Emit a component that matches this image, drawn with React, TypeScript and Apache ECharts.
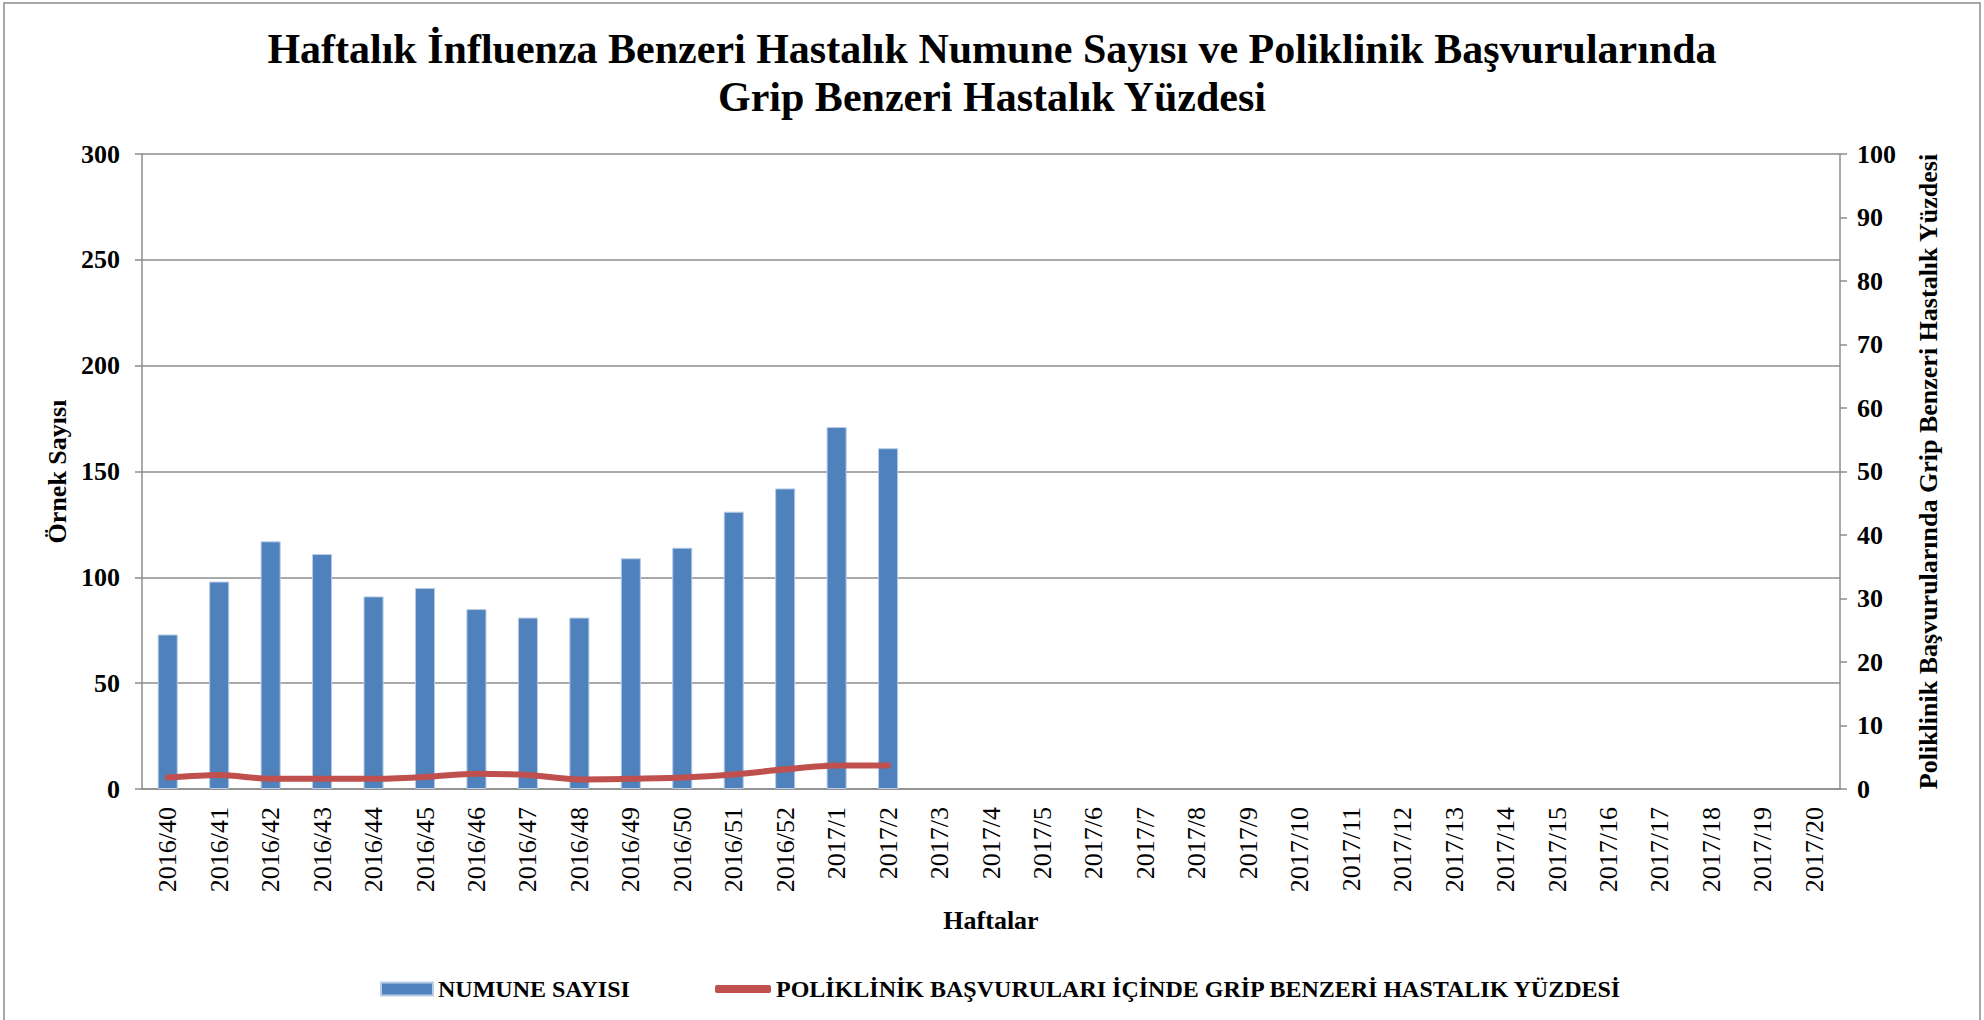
import React, { useEffect, useRef } from "react";
import * as echarts from "echarts";

const weeks2016 = ["2016/40","2016/41","2016/42","2016/43","2016/44","2016/45","2016/46","2016/47","2016/48","2016/49","2016/50","2016/51","2016/52"];
const weeks2017 = ["2017/1","2017/2","2017/3","2017/4","2017/5","2017/6","2017/7","2017/8","2017/9","2017/10","2017/11","2017/12","2017/13","2017/14","2017/15","2017/16","2017/17","2017/18","2017/19","2017/20"];
const categories = [...weeks2016, ...weeks2017];

const sampleCounts = [73, 98, 117, 111, 91, 95, 85, 81, 81, 109, 114, 131, 142, 171, 161];
const iliPercent = [1.8, 2.2, 1.6, 1.6, 1.6, 1.9, 2.4, 2.2, 1.5, 1.6, 1.8, 2.3, 3.1, 3.7, 3.7];

const title = "Haftalık İnfluenza Benzeri Hastalık Numune Sayısı ve Poliklinik Başvurularında\nGrip Benzeri Hastalık Yüzdesi";
const barName = "NUMUNE SAYISI";
const lineName = "POLİKLİNİK BAŞVURULARI İÇİNDE GRİP BENZERİ HASTALIK YÜZDESİ";
const leftAxisName = "Örnek Sayısı";
const rightAxisName = "Poliklinik Başvurularında Grip Benzeri Hastalık Yüzdesi";
const xAxisName = "Haftalar";

const FONT = '"Liberation Serif", "Times New Roman", serif';
const GRID_GRAY = "#8c8c8c";
const BAR_COLOR = "#4F81BD";
const LINE_COLOR = "#C0504D";

export default function App() {
  const ref = useRef<HTMLDivElement>(null);
  useEffect(() => {
    if (!ref.current) return;
    const chart = echarts.init(ref.current, undefined, { renderer: "svg" });
    const pad = (arr: number[]) => categories.map((_, i) => (i < arr.length ? arr[i] : null));
    const legendText = { fontFamily: FONT, fontSize: 24, fontWeight: "bold", color: "#000" };
    chart.setOption({
      animation: false,
      backgroundColor: "#ffffff",
      textStyle: { fontFamily: FONT },
      title: {
        text: title,
        left: "center",
        top: 20,
        textStyle: { fontFamily: FONT, fontSize: 42, fontWeight: "bold", color: "#000", lineHeight: 48 },
      },
      graphic: [
        {
          type: "rect",
          shape: { x: 4, y: 3, width: 1976, height: 1040 },
          style: { fill: "none", stroke: "#8a8a8a", lineWidth: 1.5 },
          silent: true,
        },
      ],
      legend: [
        {
          left: 375,
          top: 972,
          itemWidth: 52,
          itemHeight: 13,
          itemGap: 5,
          textStyle: legendText,
          data: [{ name: barName, icon: "rect" }],
        },
        {
          left: 710,
          top: 972,
          itemWidth: 56,
          itemHeight: 8,
          textStyle: legendText,
          data: [{ name: lineName, icon: "roundRect", itemStyle: { color: LINE_COLOR } }],
        },
      ],
      grid: { left: 142, right: 144, top: 154, bottom: 231, containLabel: false },
      xAxis: {
        type: "category",
        data: categories,
        name: xAxisName,
        nameLocation: "middle",
        nameGap: 118,
        nameTextStyle: { fontFamily: FONT, fontSize: 26, fontWeight: "bold", color: "#000" },
        axisLine: { lineStyle: { color: GRID_GRAY, width: 1.5 } },
        axisTick: { show: false },
        axisLabel: { rotate: 90, interval: 0, margin: 18, fontFamily: FONT, fontSize: 26, color: "#000" },
      },
      yAxis: [
        {
          type: "value",
          min: 0,
          max: 300,
          interval: 50,
          name: leftAxisName,
          nameLocation: "middle",
          nameGap: 70,
          nameRotate: 90,
          nameTextStyle: { fontFamily: FONT, fontSize: 26, fontWeight: "bold", color: "#000" },
          axisLine: { show: true, lineStyle: { color: GRID_GRAY, width: 1.5 } },
          axisTick: { show: true, length: 7, lineStyle: { color: GRID_GRAY, width: 1.5 } },
          axisLabel: { margin: 22, fontFamily: FONT, fontSize: 26, fontWeight: "bold", color: "#000" },
          splitLine: { show: true, lineStyle: { color: GRID_GRAY, width: 1.5 } },
        },
        {
          type: "value",
          min: 0,
          max: 100,
          interval: 10,
          position: "right",
          name: rightAxisName,
          nameLocation: "middle",
          nameGap: 75,
          nameRotate: 90,
          nameTextStyle: { fontFamily: FONT, fontSize: 26, fontWeight: "bold", color: "#000" },
          axisLine: { show: true, lineStyle: { color: GRID_GRAY, width: 1.5 } },
          axisTick: { show: true, length: 7, lineStyle: { color: GRID_GRAY, width: 1.5 } },
          axisLabel: { margin: 17, fontFamily: FONT, fontSize: 26, fontWeight: "bold", color: "#000" },
          splitLine: { show: false },
        },
      ],
      series: [
        {
          name: barName,
          type: "bar",
          yAxisIndex: 0,
          data: pad(sampleCounts),
          barCategoryGap: "61%",
          itemStyle: { color: BAR_COLOR, borderColor: "#B9CDE5", borderWidth: 1 },
        },
        {
          name: lineName,
          type: "line",
          yAxisIndex: 1,
          data: pad(iliPercent),
          smooth: 0.3,
          symbol: "none",
          lineStyle: { color: LINE_COLOR, width: 6, cap: "round", join: "round" },
          itemStyle: { color: LINE_COLOR },
        },
      ],
    });
    return () => chart.dispose();
  }, []);
  return (
    <div
      ref={ref}
      style={{ position: "fixed", left: 0, top: 0, width: 1984, height: 1020 }}
    />
  );
}
